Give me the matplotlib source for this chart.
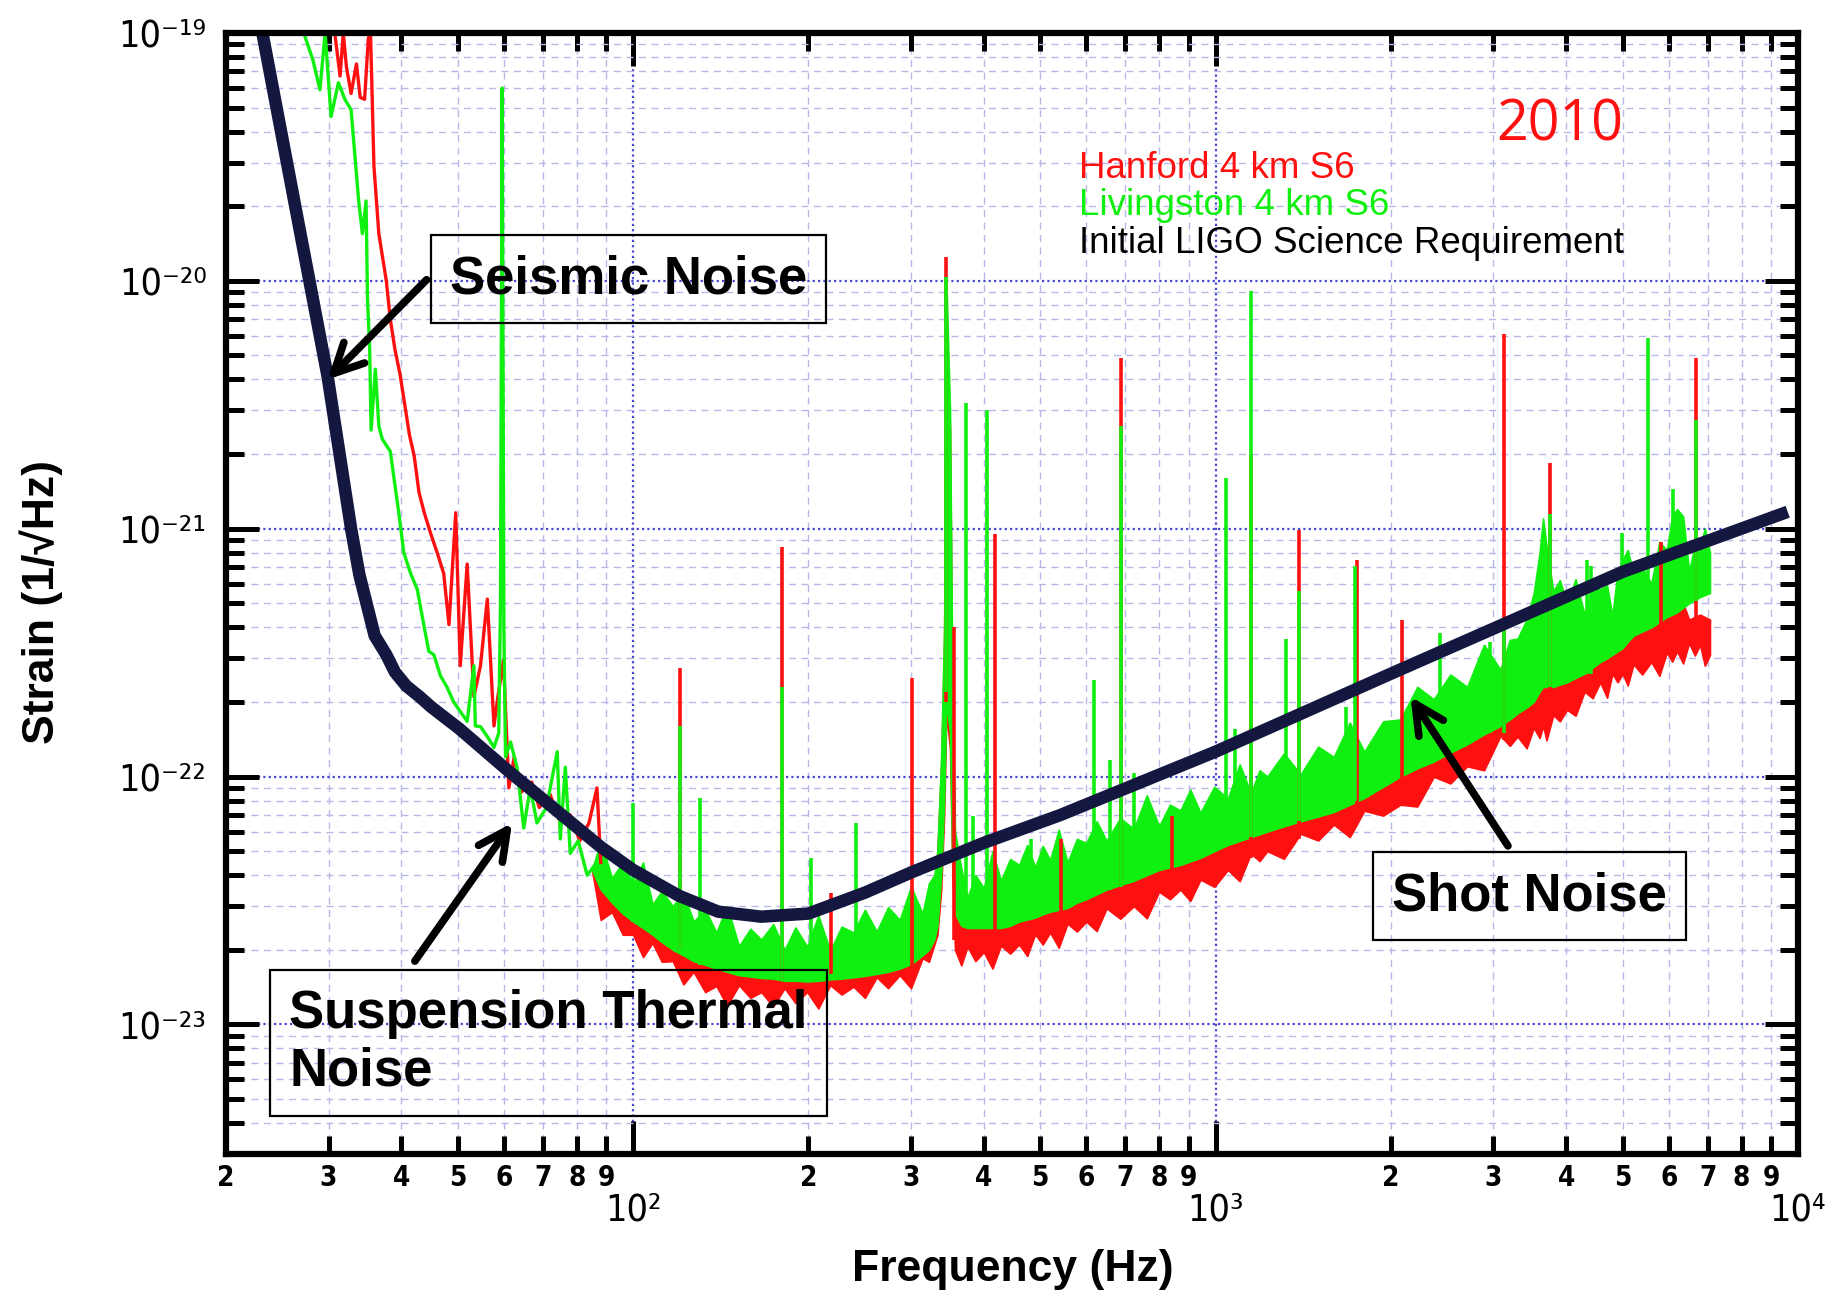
import numpy as np
import matplotlib
matplotlib.use("Agg")
import matplotlib.pyplot as plt
from matplotlib import font_manager
from matplotlib.font_manager import FontProperties
from matplotlib.ticker import LogLocator, FixedLocator, FuncFormatter, NullFormatter


def pick(*names):
    have = {f.name for f in font_manager.fontManager.ttflist}
    for n in names:
        if n in have:
            return n
    return "DejaVu Sans"


def condensed(size, weight="normal"):
    faces = font_manager.fontManager.ttflist
    if any(f.name == "DejaVu Sans" and "condensed" in str(f.stretch) for f in faces):
        return FontProperties(family="DejaVu Sans", stretch="condensed", weight=weight, size=size)
    return FontProperties(family=pick("Liberation Sans"), weight=weight, size=size * 0.95)


SANS = pick("Liberation Sans", "DejaVu Sans")
YEARFONT = pick("Open Sans", "Lato", "DejaVu Sans")

RED = "#ff1010"
GREEN = "#10f010"
NAVY = "#14173f"

# Initial LIGO science requirement
req_f = [22.5, 23.1, 26.3, 29.9, 32.8, 33.9, 36.0, 37.7, 39.0, 40.8, 43.0, 45.0, 50.3, 60.6,
         70.0, 88.0, 100, 120, 140, 166, 200, 250, 300, 400, 542, 1000, 2000, 5000, 9600]
req_h = [1.2e-19, 1.0e-19, 2.0e-20, 4.1e-21, 1.0e-21, 6.5e-22, 3.7e-22, 3.1e-22, 2.64e-22,
         2.32e-22, 2.1e-22, 1.91e-22, 1.56e-22, 1.07e-22, 8.1e-23, 5.2e-23, 4.2e-23, 3.3e-23,
         2.85e-23, 2.72e-23, 2.8e-23, 3.4e-23, 4.1e-23, 5.4e-23, 7.0e-23, 1.26e-22, 2.6e-22,
         6.7e-22, 1.17e-21]

# Hanford 4 km, low-frequency trace
han_f = [30.0, 30.6, 31.4, 31.8, 32.2, 32.8, 33.5, 34.0, 34.6, 35.1, 35.4, 35.9, 36.6, 37.7,
         38.3, 39.0, 39.8, 41.3, 42.1, 42.9, 43.8, 44.9, 46.1, 47.3, 48.3, 49.6, 50.5, 51.9,
         53.3, 54.7, 56.2, 57.7, 58.6, 59.9, 61.2, 62.5, 64.1, 67.0, 69.0, 72.0, 75.0, 78.0,
         81.0, 84.0, 86.7, 88.0]
han_h = [1.3e-19, 1.1e-19, 6.7e-20, 1.0e-19, 7.3e-20, 5.7e-20, 7.5e-20, 5.5e-20, 5.4e-20,
         9.4e-20, 1.05e-19, 2.9e-20, 1.55e-20, 1.0e-20, 7.0e-21, 5.3e-21, 4.2e-21, 2.4e-21,
         1.96e-21, 1.4e-21, 1.16e-21, 9.6e-22, 8.0e-22, 6.6e-22, 4.1e-22, 1.16e-21, 2.8e-22,
         7.2e-22, 2.1e-22, 2.8e-22, 5.2e-22, 1.6e-22, 2.1e-22, 2.95e-22, 9.0e-23, 1.2e-22,
         8.6e-23, 9.5e-23, 7.5e-23, 8.5e-23, 6.5e-23, 7.0e-23, 5.5e-23, 6.5e-23, 9.0e-23, 4.5e-23]

# Livingston 4 km, low-frequency trace
liv_f = [26.5, 27.2, 28.2, 29.0, 29.6, 30.3, 31.2, 32.0, 32.8, 33.8, 34.3, 34.8, 35.0, 35.3,
         35.5, 36.1, 36.6, 37.1, 38.3, 39.6, 40.4, 41.5, 42.6, 43.8, 44.6, 45.5, 46.7, 47.9,
         49.2, 50.5, 51.9, 53.3, 53.6, 54.7, 56.2, 57.7, 58.8, 59.2, 59.6, 60.0, 60.4, 61.6,
         63.2, 64.9, 66.6, 68.4, 71.0, 74.1, 75.0, 76.5, 78.0, 80.5, 83.4, 86.0]
liv_h = [1.3e-19, 1.0e-19, 7.8e-20, 5.9e-20, 1.0e-19, 4.6e-20, 6.3e-20, 5.4e-20, 4.9e-20,
         2.1e-20, 1.55e-20, 2.1e-20, 8.4e-21, 5.3e-21, 2.5e-21, 4.4e-21, 2.6e-21, 2.3e-21,
         2.05e-21, 1.16e-21, 8.0e-22, 6.6e-22, 5.7e-22, 4.0e-22, 3.2e-22, 3.1e-22, 2.55e-22,
         2.3e-22, 2.0e-22, 1.83e-22, 1.67e-22, 2.8e-22, 1.6e-22, 1.59e-22, 1.45e-22, 1.31e-22,
         1.5e-22, 5.0e-22, 6.0e-20, 4.0e-22, 1.2e-22, 1.38e-22, 1.09e-22, 6.2e-23, 9.0e-23,
         6.5e-23, 7.5e-23, 1.26e-22, 5.6e-23, 1.09e-22, 4.9e-23, 5.5e-23, 4.0e-23, 4.4e-23]

# broadband floor above ~85 Hz, edges in units of 1e-23
band_f = [85, 88, 92, 96, 100, 104, 108, 112, 117, 122,
          127, 133, 139, 145, 152, 159, 166, 174, 182, 190,
          199, 208, 218, 228, 239, 250, 262, 274, 287, 300,
          314, 322, 329, 333, 338, 342, 345, 350, 353, 357,
          366, 375, 387, 400, 414, 428, 444, 460, 475, 490,
          505, 520, 538, 557, 578, 600, 625, 650, 686, 724,
          762, 800, 835, 870, 905, 942, 995, 1050, 1100, 1150,
          1190, 1227, 1310, 1400, 1500, 1596, 1700, 1800, 1940, 2077,
          2220, 2369, 2530, 2704, 2890, 3084, 3200, 3300, 3420, 3518,
          3600, 3650, 3700, 3800, 3900, 4011, 4150, 4300, 4440, 4575,
          4700, 4800, 4900, 5000, 5100, 5218, 5400, 5600, 5780, 5952,
          6080, 6200, 6350, 6500, 6650, 6788, 6920, 7060]

han_band_lo = [4.2, 2.64, 2.84, 2.3, 2.3, 1.87, 2.13, 1.79, 1.8, 1.45,
               1.63, 1.35, 1.43, 1.19, 1.44, 1.28, 1.35, 1.18, 1.4, 1.22,
               1.35, 1.16, 1.44, 1.32, 1.42, 1.28, 1.55, 1.4, 1.58, 1.4,
               1.85, 1.79, 2.1, 2.3, 3.5, 7, 18, 13, 4.5, 2.0,
               1.73, 2.06, 1.8, 1.96, 1.68, 2.08, 1.93, 2.1, 1.89, 2.31,
               2.1, 2.35, 2.04, 2.55, 2.37, 2.6, 2.38, 2.94, 2.67, 3.0,
               2.68, 3.43, 3.2, 3.5, 3.15, 3.84, 3.59, 4.2, 3.78, 4.89,
               4.56, 5.0, 4.66, 5.88, 5.52, 6.4, 5.7, 7.28, 6.96, 7.7,
               7.57, 9.98, 9.38, 11.0, 10.6, 14.6, 13.3, 14.5, 13.0, 15.75,
               14.3, 16, 14.0, 17.7, 16.7, 18.6, 17.6, 22, 20.7, 24,
               20.8, 26, 24, 26, 23.3, 28.4, 25.8, 29, 25.5, 31.7,
               29.1, 32, 28.6, 34.6, 30.8, 34, 28, 31]
han_band_hi = [4.2, 4.2, 3.8, 3.5, 3.3, 3.1, 2.9, 2.75, 2.6, 2.5,
               2.4, 2.3, 2.2, 2.15, 2.1, 2.05, 2.0, 2.0, 2.0, 2.0,
               2.0, 2.0, 2.0, 2.05, 2.1, 2.15, 2.2, 2.3, 2.35, 2.4,
               2.6, 3.0, 3.8, 5.0, 11, 35, 800, 250, 25, 3.2,
               3.0, 2.9, 2.85, 2.8, 2.85, 2.9, 2.95, 3.0, 3.05, 3.1,
               3.2, 3.3, 3.4, 3.5, 3.65, 3.8, 3.95, 4.1, 4.25, 4.4,
               4.65, 4.9, 5.05, 5.2, 5.35, 5.5, 5.75, 6.0, 6.3, 6.6,
               6.8, 7.0, 7.3, 7.7, 8.2, 8.8, 9.4, 10, 10.8, 11.5,
               12.8, 14, 14.8, 15.5, 17, 19, 20, 21, 26, 33,
               40, 42, 36, 30, 28, 26, 28, 30, 31, 32,
               33, 35, 38, 40, 39, 38, 40, 42, 45, 50,
               58, 65, 50, 43, 44, 45, 44, 43]

liv_band_lo = [4.2, 3.5, 3.1, 2.8, 2.6, 2.45, 2.3, 2.15, 2.0, 1.9,
               1.8, 1.74, 1.68, 1.63, 1.58, 1.56, 1.54, 1.53, 1.5, 1.5,
               1.49, 1.5, 1.52, 1.53, 1.55, 1.57, 1.6, 1.63, 1.68, 1.75,
               1.9, 2.0, 2.2, 2.5, 4, 8, 20, 15, 5, 2.8,
               2.5, 2.45, 2.45, 2.45, 2.45, 2.45, 2.5, 2.6, 2.65, 2.7,
               2.78, 2.85, 2.9, 2.95, 3.1, 3.2, 3.35, 3.5, 3.65, 3.8,
               4.0, 4.2, 4.3, 4.4, 4.55, 4.7, 5.0, 5.3, 5.5, 5.7,
               5.85, 6.0, 6.3, 6.6, 6.9, 7.2, 7.7, 8.2, 9.1, 10,
               10.8, 11.5, 12.5, 13.5, 14.8, 16, 17, 18, 19, 20,
               22, 23, 23, 23, 23.5, 24, 25, 26, 27.5, 29,
               30, 31, 32, 33, 35, 37, 38.5, 40, 42, 44,
               45, 46, 48, 50, 51.5, 53, 54, 55]
liv_band_hi = [4.2, 5.5, 3.9, 4.5, 3.65, 4.5, 3.05, 3.45, 3.0, 3.4,
               2.6, 2.9, 2.35, 3.0, 2.07, 2.43, 2.2, 2.54, 2.0, 2.46,
               2.06, 2.75, 1.98, 2.48, 2.35, 2.9, 2.37, 2.97, 2.64, 3.6,
               2.8, 3.7, 4.0, 5.0, 12, 40, 1000, 300, 30, 6.0,
               4.25, 3.25, 4.0, 3.55, 5.0, 3.8, 4.65, 4.4, 5.3, 4.3,
               5.25, 4.6, 6.1, 4.5, 5.6, 5.4, 6.6, 5.5, 6.8, 6.15,
               8.4, 6.3, 7.7, 7.3, 8.85, 7.15, 9.1, 8.15, 11.2, 8.55,
               10.6, 10.0, 12.4, 10.2, 13.2, 12.0, 16.5, 12.6, 16.7, 17.0,
               23, 20.5, 25.8, 23, 34, 27, 35.6, 36, 43, 55,
               80, 110, 85, 56, 62, 50, 62.5, 45, 59, 57,
               59, 44.5, 67, 75, 82, 66, 70, 60, 88.5, 82,
               112, 120, 112, 67.5, 86, 85, 100, 80]

# narrow lines: frequency, foot, peak
han_line_f = [120.4, 180.5, 218.6, 301, 345, 355, 418.6, 542, 689, 842, 1149, 1390, 1748,
              2090, 3129, 3751, 5827, 6672]
han_line_lo = [2.0e-23, 1.5e-23, 1.6e-23, 1.7e-23, 2.0e-22, 2.2e-23, 2.1e-23, 2.5e-23,
               3.0e-23, 3.4e-23, 4.7e-23, 5.6e-23, 6.5e-23, 8.0e-23, 1.4e-22, 1.7e-22,
               3.0e-22, 3.3e-22]
han_line_hi = [2.75e-22, 8.4e-22, 3.4e-23, 2.5e-22, 1.25e-20, 4.0e-22, 9.5e-22, 5.6e-23,
               4.9e-21, 6.9e-23, 2.0e-21, 9.9e-22, 7.5e-22, 4.3e-22, 6.1e-21, 1.84e-21,
               8.8e-22, 4.9e-21]

liv_line_f = [99.8, 120.5, 130.2, 180.5, 202, 241, 345, 372.6, 383, 405, 482, 618, 660, 689,
              724, 1043, 1082, 1151, 1323, 1390, 1673, 1735, 2433, 2965, 3129, 3751, 4340,
              4404, 4982, 5516, 6100, 6672]
liv_line_lo = [2.6e-23, 2.0e-23, 1.74e-23, 1.5e-23, 1.5e-23, 1.55e-23, 2.2e-22, 2.45e-23,
               2.45e-23, 2.45e-23, 2.7e-23, 3.3e-23, 3.5e-23, 3.6e-23, 3.8e-23, 5.3e-23,
               5.5e-23, 5.7e-23, 6.4e-23, 6.6e-23, 7.8e-23, 8.0e-23, 1.2e-22, 1.5e-22,
               1.5e-22, 2.3e-22, 2.6e-22, 2.6e-22, 3.3e-22, 3.9e-22, 4.5e-22, 5.1e-22]
liv_line_hi = [7.8e-23, 1.6e-22, 8.2e-23, 2.3e-22, 4.7e-23, 6.5e-23, 1.04e-20, 3.2e-21,
               6.9e-23, 3.0e-21, 5.6e-23, 2.46e-22, 1.17e-22, 2.6e-21, 1.03e-22, 1.6e-21,
               1.55e-22, 9.1e-21, 3.6e-22, 5.6e-22, 1.9e-22, 7.1e-22, 3.8e-22, 3.5e-22,
               4.0e-22, 1.15e-21, 7.5e-22, 7.1e-22, 9.6e-22, 5.9e-21, 1.44e-21, 2.75e-21]

legend_labels = ["Hanford 4 km S6", "Livingston 4 km S6", "Initial LIGO Science Requirement"]
legend_colors = [RED, GREEN, "black"]

x_decades = [1e2, 1e3, 1e4]
y_decades = [1e-23, 1e-22, 1e-21, 1e-20, 1e-19]

SUP = str.maketrans("-0123456789", "\u207b\u2070\u00b9\u00b2\u00b3\u2074\u2075\u2076\u2077\u2078\u2079")

fig = plt.figure(figsize=(18.43, 12.94), dpi=100)
ax = fig.add_axes([0.1226, 0.1082, 0.853, 0.8663])
ax.set_xscale("log")
ax.set_yscale("log")
ax.set_xlim(20, 1e4)
ax.set_ylim(3e-24, 1e-19)

ax.grid(True, which="minor", color="#b8b8e8", ls=(0, (5, 4)), lw=1.0)
ax.grid(True, which="major", color="#4646d2", ls=(0, (1, 1.4)), lw=1.6)
ax.set_axisbelow(True)

# Hanford under Livingston
e23 = 1e-23
ax.plot(han_f, han_h, color=RED, lw=2.4)
ax.fill_between(band_f, np.array(han_band_lo) * e23, np.array(han_band_hi) * e23,
                color=RED, lw=1.2)
ax.vlines(han_line_f, han_line_lo, han_line_hi, color=RED, lw=2.6)

ax.plot(liv_f, liv_h, color=GREEN, lw=2.4)
ax.fill_between(band_f, np.array(liv_band_lo) * e23, np.array(liv_band_hi) * e23,
                color=GREEN, lw=1.2)
ax.vlines(liv_line_f, liv_line_lo, liv_line_hi, color=GREEN, lw=2.6)

ax.plot(req_f, req_h, color=NAVY, lw=9, solid_joinstyle="round", solid_capstyle="butt")

# ticks
decade = FuncFormatter(lambda v, p: "10" + str(int(round(np.log10(v)))).translate(SUP))
digit = FuncFormatter(lambda v, p: "%d" % round(v / 10 ** np.floor(np.log10(v) + 1e-9)))
ax.xaxis.set_major_locator(FixedLocator(x_decades))
ax.xaxis.set_minor_locator(LogLocator(base=10, subs=np.arange(2, 10), numticks=100))
ax.yaxis.set_major_locator(FixedLocator(y_decades))
ax.yaxis.set_minor_locator(LogLocator(base=10, subs=np.arange(2, 10), numticks=100))
ax.xaxis.set_major_formatter(decade)
ax.xaxis.set_minor_formatter(digit)
ax.yaxis.set_major_formatter(decade)
ax.yaxis.set_minor_formatter(NullFormatter())

ax.tick_params(which="both", direction="in", top=True, right=True, width=3.6, color="black")
ax.tick_params(which="major", length=24)
ax.tick_params(which="minor", length=13)
ax.tick_params(axis="x", which="major", pad=28)
ax.tick_params(axis="x", which="minor", pad=7)
ax.tick_params(axis="y", which="major", pad=14)
for t in ax.get_xticklabels() + ax.get_yticklabels():
    t.set_fontproperties(condensed(27))
for t in ax.get_xticklabels(minor=True):
    t.set_fontproperties(condensed(20, "bold"))
for s in ax.spines.values():
    s.set_linewidth(4.5)

fig.text(0.5496, 0.0193, "Frequency (Hz)", ha="center", va="center",
         fontsize=32, fontweight="bold", family=[SANS, "DejaVu Sans"])
fig.text(0.0223, 0.535, "Strain (1/\u221aHz)", ha="center", va="center", rotation=90,
         fontsize=32, fontweight="bold", family=[SANS, "DejaVu Sans"])

# legend text
for i, (lab, col) in enumerate(zip(legend_labels, legend_colors)):
    ax.text(0.5426, 0.8795 - i * 0.0336, lab, color=col, fontsize=26.5, family=SANS,
            ha="left", va="center", transform=ax.transAxes)
ax.text(0.8483, 0.9172, "2010", color=RED, fontsize=40, family=YEARFONT,
        ha="center", va="center", transform=ax.transAxes)

# labelled noise sources
box = dict(boxstyle="square,pad=0.36", fc="none", ec="black", lw=1.6)
label_kw = dict(fontsize=38, fontweight="bold", family=SANS, transform=ax.transAxes, bbox=box)
ax.text(0.256, 0.7805, "Seismic Noise", ha="center", va="center", **label_kw)
ax.text(0.0404, 0.0991, "Suspension Thermal\nNoise", ha="left", va="center",
        linespacing=1.2, **label_kw)
ax.text(0.8292, 0.2301, "Shot Noise", ha="center", va="center", **label_kw)

arrow = dict(arrowstyle="->,head_length=0.7,head_width=0.35", lw=5.5, color="black",
             shrinkA=0, shrinkB=0, mutation_scale=30)
ax.annotate("", xy=(29.9, 4.0e-21), xytext=(44.2, 1.01e-20), arrowprops=arrow)
ax.annotate("", xy=(62.0, 6.5e-23), xytext=(42.2, 1.8e-23), arrowprops=arrow)
ax.annotate("", xy=(2161, 2.1e-22), xytext=(3177, 5.25e-23), arrowprops=arrow)

fig.savefig("out.png", dpi=100)
